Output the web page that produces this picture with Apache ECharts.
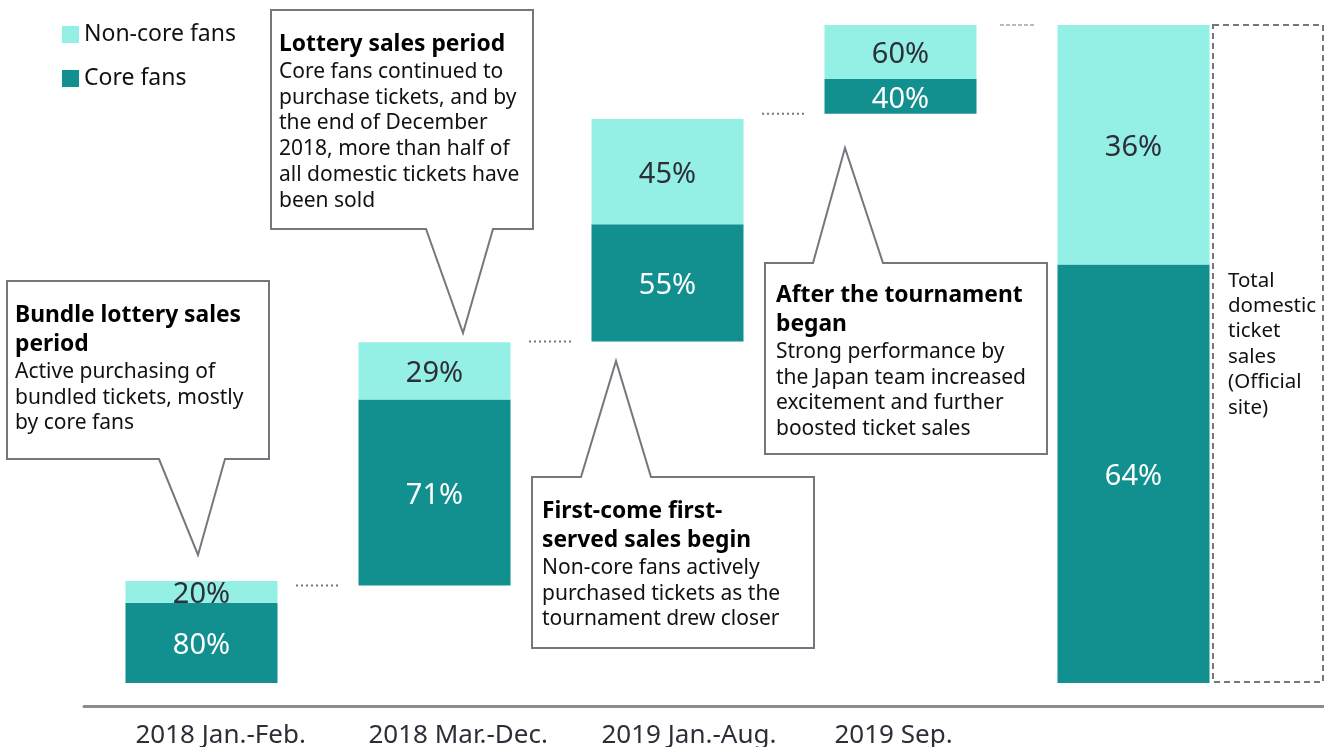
<!DOCTYPE html>
<html>
<head>
<meta charset="utf-8">
<script src="https://cdn.jsdelivr.net/npm/echarts@6/dist/echarts.min.js"></script>
<style>
  html, body { margin: 0; padding: 0; background: #fff; }
  #chart { width: 1324px; height: 747px; }
</style>
</head>
<body>
<div id="chart"></div>
<script>
// ---------- data ----------
const periods = ['2018 Jan.-Feb.', '2018 Mar.-Dec.', '2019 Jan.-Aug.', '2019 Sep.', ''];
// bar pieces in % of total domestic sales
const offsets = [0, 14.8, 51.9, 86.5, 0];
const coreHeight = [12.2, 28.3, 17.8, 5.3, 63.6];
const nonCoreHeight = [3.3, 8.7, 16.0, 8.2, 36.4];
// shares printed inside the bars
const corePct = [80, 71, 55, 40, 64];
const nonCorePct = [20, 29, 45, 60, 36];

const FONT = 'Noto Sans';
const DARK = '#128f8f';
const LIGHT = '#94f0e5';
const INK = '#2e2e38';
const EDGE = '#76767f';

// connectors sit at the foot of the next bar (last one at the top of the total)
const links = [0, 1, 2, 3].map(i => {
    const level = i < 3 ? offsets[i + 1] : coreHeight[4] + nonCoreHeight[4];
    return [i, level, i === 3 ? 1 : 0];
});

// ---------- callouts ----------
function callout(points, tx, ty, title, body) {
    const text = title.map(t => '{b|' + t + '}').concat(body.map(t => '{n|' + t + '}')).join('\n');
    return [
        { type: 'polygon', z: 50, shape: { points: points },
          style: { fill: '#fff', stroke: EDGE, lineWidth: 2 } },
        { type: 'text', z: 51, x: tx, y: ty,
          style: { text: text, verticalAlign: 'top', rich: {
              b: { fontFamily: FONT, fontSize: 22.8, fontWeight: 'bold', lineHeight: 29, fill: '#000' },
              n: { fontFamily: FONT, fontSize: 21, lineHeight: 25.8, fill: '#111' }
          } } }
    ];
}

const graphics = [].concat(
    callout([[7, 281], [269, 281], [269, 459], [225, 459], [198, 555], [159, 459], [7, 459]],
        15, 301, ['Bundle lottery sales', 'period'],
        ['Active purchasing of', 'bundled tickets, mostly', 'by core fans']),
    callout([[271, 10], [533, 10], [533, 229], [493, 229], [463, 333], [426, 229], [271, 229]],
        279, 30, ['Lottery sales period'],
        ['Core fans continued to', 'purchase tickets, and by', 'the end of December',
         '2018, more than half of', 'all domestic tickets have', 'been sold']),
    callout([[532, 477], [581, 477], [616, 361], [651, 477], [814, 477], [814, 648], [532, 648]],
        542, 497, ['First-come first-', 'served sales begin'],
        ['Non-core fans actively', 'purchased tickets as the', 'tournament drew closer']),
    callout([[765, 263], [813, 263], [845, 148], [883, 263], [1047, 263], [1047, 454], [765, 454]],
        776, 281, ['After the tournament', 'began'],
        ['Strong performance by', 'the Japan team increased', 'excitement and further', 'boosted ticket sales']),
    [
        { type: 'rect', z: 50, shape: { x: 1213, y: 25, width: 110, height: 657 },
          style: { fill: 'none', stroke: EDGE, lineWidth: 2, lineDash: [6, 4] } },
        { type: 'text', z: 51, x: 1228, y: 268,
          style: { text: 'Total\ndomestic\nticket\nsales\n(Official\nsite)', verticalAlign: 'top',
                   fontFamily: FONT, fontSize: 20.5, lineHeight: 25.4, fill: '#111' } }
    ]
);

// ---------- chart ----------
const chart = echarts.init(document.getElementById('chart'));

const option = {
    animation: false,
    textStyle: { fontFamily: FONT },
    legend: {
        data: ['Non-core fans', 'Core fans'],
        orient: 'vertical', left: 62, top: 23, padding: 0,
        itemWidth: 17, itemHeight: 17, itemGap: 21,
        icon: 'rect',
        textStyle: { fontFamily: FONT, fontSize: 23, color: '#111' }
    },
    grid: [
        { left: 85, right: 74, top: 25, bottom: 64, outerBoundsMode: 'none', containLabel: false },
        { left: 84, right: 0, top: 690, bottom: 41, outerBoundsMode: 'none', containLabel: false }
    ],
    xAxis: [
        {
            type: 'category', gridIndex: 0, data: periods,
            axisLine: { show: false }, axisTick: { show: false },
            axisLabel: {
                interval: 0, margin: 40,
                formatter: v => v ? '{a|' + v + '}' : '',
                rich: { a: { width: 132, align: 'left', fontFamily: FONT, fontSize: 26, color: INK } }
            }
        },
        {
            type: 'value', gridIndex: 1, min: 0, max: 1,
            axisLine: { show: true, onZero: false, lineStyle: { color: '#8c8c8c', width: 3 } },
            axisTick: { show: false }, axisLabel: { show: false }, splitLine: { show: false }
        }
    ],
    yAxis: [
        { type: 'value', gridIndex: 0, min: 0, max: 100, show: false },
        { type: 'value', gridIndex: 1, min: 0, max: 1, show: false }
    ],
    series: [
        {
            name: 'base', type: 'bar', stack: 'w', barWidth: 152, silent: true,
            itemStyle: { color: 'transparent' }, data: offsets
        },
        {
            name: 'Core fans', type: 'bar', stack: 'w', barWidth: 152,
            itemStyle: { color: DARK }, data: coreHeight,
            label: { show: true, position: 'inside', offset: [0, 3], fontFamily: FONT, fontSize: 29, color: '#fff',
                     formatter: p => corePct[p.dataIndex] + '%' }
        },
        {
            name: 'Non-core fans', type: 'bar', stack: 'w', barWidth: 152,
            itemStyle: { color: LIGHT }, data: nonCoreHeight,
            label: { show: true, position: 'inside', offset: [0, 3], fontFamily: FONT, fontSize: 29, color: INK,
                     formatter: p => nonCorePct[p.dataIndex] + '%' }
        },
        {
            name: 'links', type: 'custom', silent: true, data: links,
            encode: { x: 0, y: 1 },
            renderItem: function (params, api) {
                const p = api.coord([api.value(0), api.value(1)]);
                const band = api.size([1, 0])[0];
                const mid = p[0] + band / 2;
                const dashed = api.value(2) === 1;
                const half = dashed ? 17 : 22;
                return {
                    type: 'line',
                    shape: { x1: mid - half, y1: p[1], x2: mid + half, y2: p[1] },
                    style: { stroke: EDGE, lineWidth: dashed ? 1 : 2, lineDash: dashed ? [4, 2] : [2, 3] }
                };
            }
        }
    ],
    graphic: graphics
};

chart.setOption(option);
</script>
</body>
</html>
